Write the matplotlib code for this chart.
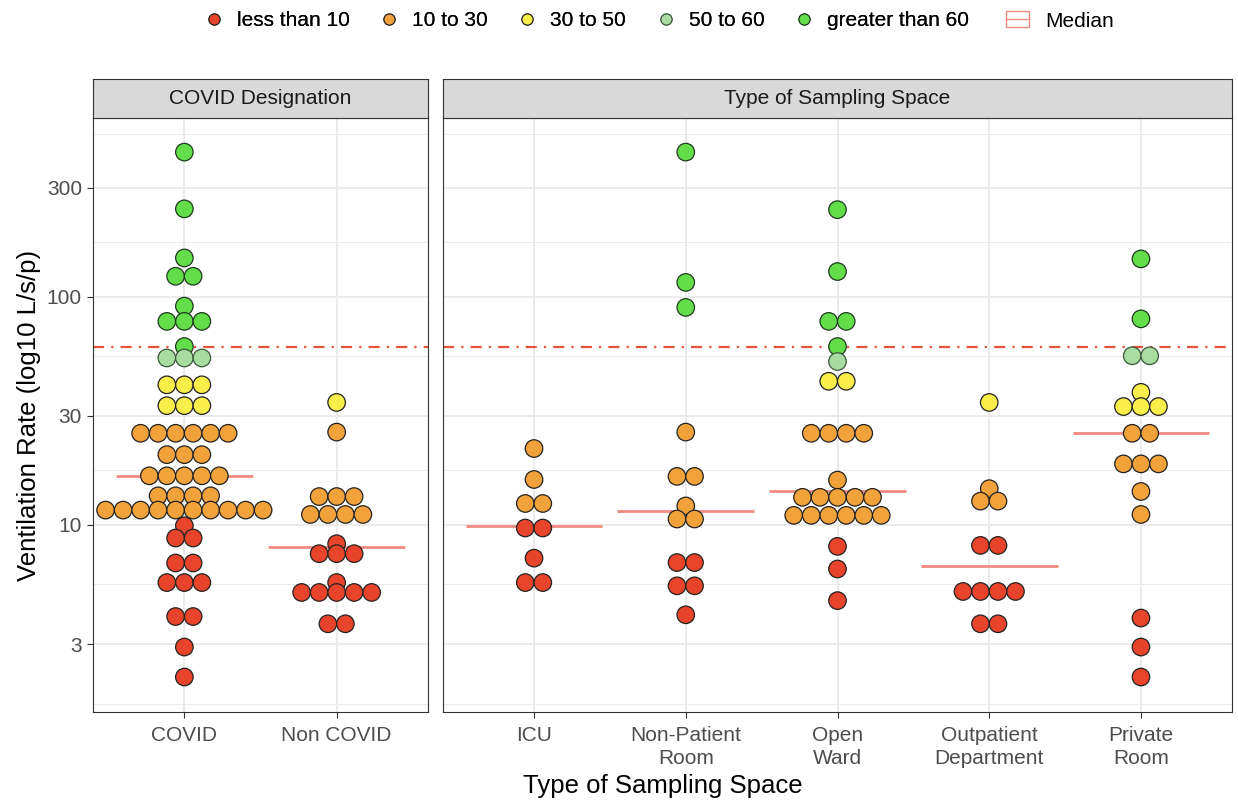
import numpy as np
import matplotlib
matplotlib.use("Agg")
import matplotlib.pyplot as plt
from matplotlib.patches import Patch
from matplotlib.lines import Line2D
from matplotlib.legend_handler import HandlerTuple
from matplotlib.ticker import FixedLocator, NullFormatter

plt.rcParams['font.family'] = ['Liberation Sans', 'DejaVu Sans']

# ---------------- data (dot bins: value, number of dots) ----------------
covid_vals = [431, 243, 148, 123, 91, 78, 60.5, 53.9, 41.1, 33.3, 25.2, 20.3, 16.4, 13.4, 11.6,
              9.9, 8.75, 6.8, 5.58, 3.96, 2.91, 2.15]
covid_counts = [1, 1, 1, 2, 1, 3, 1, 3, 3, 3, 6, 3, 5, 4, 10, 1, 2, 2, 3, 2, 1, 1]

noncovid_vals = [34.4, 25.5, 13.3, 11.1, 8.26, 7.47, 5.58, 5.05, 3.68]
noncovid_counts = [1, 1, 3, 4, 1, 3, 1, 5, 2]

icu_vals = [21.6, 15.8, 12.4, 9.68, 7.14, 5.58]
icu_counts = [1, 1, 2, 2, 1, 2]

npr_vals = [431, 115.6, 89.8, 25.5, 16.3, 12.1, 10.6, 6.83, 5.4, 4.03]
npr_counts = [1, 1, 1, 1, 2, 1, 2, 2, 2, 1]

ward_vals = [241, 129, 78, 60.5, 52, 42.6, 25.2, 15.7, 13.2, 11.0, 8.04, 6.4, 4.65]
ward_counts = [1, 1, 2, 1, 1, 2, 4, 1, 5, 6, 1, 1, 1]

outpt_vals = [34.4, 14.4, 12.7, 8.12, 5.1, 3.68]
outpt_counts = [1, 1, 2, 2, 4, 2]

private_vals = [146.6, 80, 55.1, 38.1, 33.0, 25.2, 18.5, 14.0, 11.1, 3.9, 2.91, 2.15]
private_counts = [1, 1, 2, 1, 3, 2, 3, 1, 1, 1, 1, 1]

covid_labels = ["COVID", "Non COVID"]
space_labels = ["ICU", "Non-Patient\nRoom", "Open\nWard", "Outpatient\nDepartment", "Private\nRoom"]
covid_medians = [16.4, 8.0]
space_medians = [9.9, 11.5, 14.1, 6.6, 25.2]
threshold = 60

class_names = ["less than 10", "10 to 30", "30 to 50", "50 to 60", "greater than 60"]
class_colors = ["#E8432B", "#F2A23A", "#F9EE4A", "#A8DCA0", "#63DE4A"]
class_edges = ["#222222", "#222222", "#222222", "#3A573A", "#1F3A1F"]
class_bounds = [10, 30, 50, 60]

yticks = [3, 10, 30, 100, 300]

# ---------------- layout ----------------
W, H = 1238, 801
fig = plt.figure(figsize=(W / 100, H / 100), dpi=100)

def fx(px):
    return px / W

def fy(py):
    return 1 - py / H

FS = 15
panel_top, panel_bot = 118, 712
strip_top = 79
axL = fig.add_axes([fx(93), fy(panel_bot), fx(428 - 93), (panel_bot - panel_top) / H])
axR = fig.add_axes([fx(443), fy(panel_bot), fx(1232 - 443), (panel_bot - panel_top) / H])
sL = fig.add_axes([fx(93), fy(panel_top), fx(428 - 93), (panel_top - strip_top) / H])
sR = fig.add_axes([fx(443), fy(panel_top), fx(1232 - 443), (panel_top - strip_top) / H])

ylo, yhi = 10 ** 0.179, 10 ** 2.784
log_major = np.log10(yticks)
minor = list(10 ** ((log_major[:-1] + log_major[1:]) / 2))
minor = [10 ** (log_major[0] - (log_major[1] - log_major[0]) / 2)] + minor + \
        [10 ** (log_major[-1] + (log_major[-1] - log_major[-2]) / 2)]

median_color = "#F28A80"
thr_color = "#E5533D"
border = "#333333"
DOT_PX = 17.5

def classify(v):
    for i, b in enumerate(class_bounds):
        if v < b:
            return i
    return len(class_bounds)

def setup(ax, labels, show_y):
    n = len(labels)
    ax.set_yscale("log")
    ax.set_ylim(ylo, yhi)
    ax.set_xlim(0.4, n + 0.6)
    ax.set_xticks(range(1, n + 1))
    ax.set_xticklabels(labels, fontsize=FS, color="#4D4D4D", linespacing=1.25)
    ax.yaxis.set_major_locator(FixedLocator(yticks))
    ax.yaxis.set_minor_locator(FixedLocator(minor))
    ax.yaxis.set_minor_formatter(NullFormatter())
    ax.set_yticklabels([str(t) for t in yticks] if show_y else [], fontsize=FS, color="#4D4D4D")
    ax.tick_params(axis="both", which="major", length=4, width=0.8, color=border, pad=4)
    ax.tick_params(axis="x", which="major", pad=6)
    ax.tick_params(axis="y", which="minor", length=0)
    if not show_y:
        ax.tick_params(axis="y", which="major", length=0)
    ax.grid(True, which="major", color="#EBEBEB", lw=1.4, zorder=0)
    ax.grid(True, which="minor", axis="y", color="#EBEBEB", lw=0.7, zorder=0)
    ax.set_axisbelow(True)
    for s in ax.spines.values():
        s.set_color(border)
        s.set_linewidth(0.8)

def draw(ax, groups, medians):
    bb = ax.get_window_extent()
    xr = ax.get_xlim()
    step = DOT_PX / (bb.width / (xr[1] - xr[0]))
    ax.axhline(threshold, color=thr_color, lw=1.6, ls=(0, (5, 3.2, 1, 3.2)), zorder=1)
    for i, (m) in enumerate(medians):
        ax.hlines(m, i + 1 - 0.45, i + 1 + 0.45, color=median_color, lw=2.0, zorder=2)
    for i, (vals, counts) in enumerate(groups):
        xs, ys, fc, ec = [], [], [], []
        for v, c in zip(vals, counts):
            k = classify(v)
            for j in range(c):
                xs.append(i + 1 + (j - (c - 1) / 2) * step)
                ys.append(v)
                fc.append(class_colors[k])
                ec.append(class_edges[k])
        ax.scatter(xs, ys, s=(DOT_PX * 0.72) ** 2, c=fc, edgecolors=ec, linewidths=0.9, zorder=3)

setup(axL, covid_labels, True)
setup(axR, space_labels, False)
draw(axL, [(covid_vals, covid_counts), (noncovid_vals, noncovid_counts)], covid_medians)
draw(axR, [(icu_vals, icu_counts), (npr_vals, npr_counts), (ward_vals, ward_counts),
           (outpt_vals, outpt_counts), (private_vals, private_counts)], space_medians)

for sax, title in [(sL, "COVID Designation"), (sR, "Type of Sampling Space")]:
    sax.set_facecolor("#D9D9D9")
    sax.set_xticks([])
    sax.set_yticks([])
    for s in sax.spines.values():
        s.set_color(border)
        s.set_linewidth(0.8)
    sax.text(0.5, 0.5, title, transform=sax.transAxes, ha="center", va="center",
             fontsize=FS, color="#1A1A1A")

fig.text(fx(29), fy((panel_top + panel_bot) / 2), "Ventilation Rate (log10 L/s/p)",
         rotation=90, ha="center", va="center", fontsize=18.5, color="black")
fig.text(fx((93 + 1232) / 2), fy(786), "Type of Sampling Space",
         ha="center", va="center", fontsize=18.5, color="black")

# legends
handles = [Line2D([], [], ls="", marker="o", markersize=8, markerfacecolor=c,
                  markeredgecolor=e, markeredgewidth=0.8) for c, e in zip(class_colors, class_edges)]
leg1 = fig.legend(handles, class_names, loc="center", bbox_to_anchor=(fx(585), fy(21)),
                  ncol=5, frameon=False, fontsize=FS, handletextpad=0.5, columnspacing=1.3,
                  handlelength=1.2)
fig.add_artist(leg1)
med_handle = (Patch(facecolor="white", edgecolor=median_color, lw=1.0),
              Line2D([], [], color=median_color, lw=1.0))
leg2 = fig.legend([med_handle], ["Median"], loc="center", bbox_to_anchor=(fx(1060), fy(21)),
                  frameon=False, fontsize=FS, handler_map={tuple: HandlerTuple(ndivide=1)},
                  handlelength=1.1, handleheight=0.8, handletextpad=0.8)

fig.savefig("out.png", dpi=100)
